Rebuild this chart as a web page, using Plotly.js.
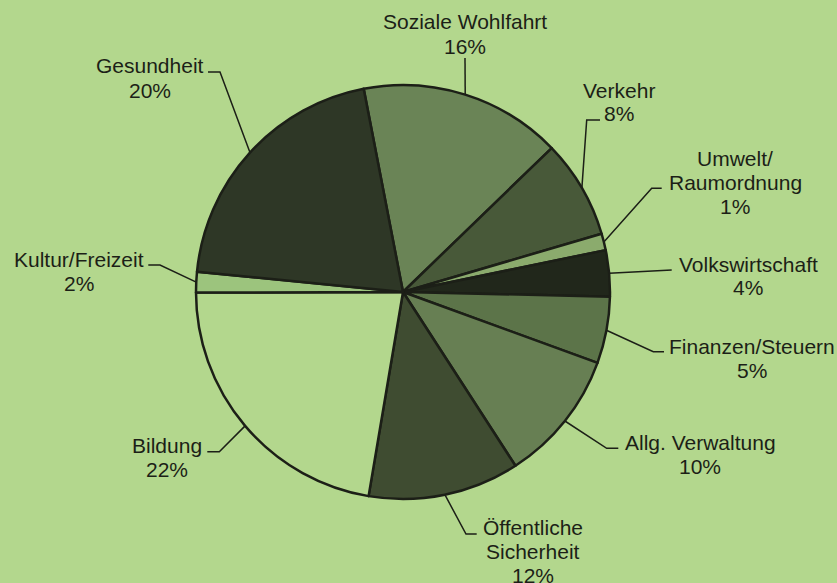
<!DOCTYPE html>
<html>
<head>
<meta charset="utf-8">
<script src="https://cdn.plot.ly/plotly-3.0.1.min.js"></script>
<style>
  html, body { margin: 0; padding: 0; background: #b3d78d; }
  #chart { width: 837px; height: 583px; }
</style>
</head>
<body>
<div id="chart"></div>
<script>
// Ausgaben nach Aufgabenbereichen (Anteile in %)
const categories = ['Soziale Wohlfahrt', 'Verkehr', 'Umwelt/Raumordnung', 'Volkswirtschaft',
  'Finanzen/Steuern', 'Allg. Verwaltung', 'Öffentliche Sicherheit', 'Bildung',
  'Kultur/Freizeit', 'Gesundheit'];
const shares = [15.8, 7.7, 1.3, 3.6, 5.2, 10.3, 11.8, 22.3, 1.6, 20.4];
const labelText = [['Soziale Wohlfahrt'], ['Verkehr'], ['Umwelt/', 'Raumordnung'], ['Volkswirtschaft'],
  ['Finanzen/Steuern'], ['Allg. Verwaltung'], ['Öffentliche', 'Sicherheit'], ['Bildung'],
  ['Kultur/Freizeit'], ['Gesundheit']];
const sliceColors = ['#6a8456', '#485939', '#8bab6d', '#21271b', '#5c7449',
  '#677f53', '#3f4c31', '#b3d78d', '#9cc47d', '#2e3726'];

(function () {
  'use strict';

  const W = 837, H = 583;
  const BG = '#b3d78d', INK = '#1c1f17';
  const cx = 403, cy = 292, R = 207;
  const rotation = -10.95;
  const lineH = 24;

  // label placement (px): text centre x, first line y, leader elbow, leader end
  const place = [
    { x: 464.5, y: 22,  elbow: null,           end: [465, 58] },
    { x: 619,   y: 90,  elbow: [586.7, 120],   end: [600, 120] },
    { x: 735,   y: 158.5, elbow: [651.7, 188.3], end: [661.7, 188.3] },
    { x: 748,   y: 264, elbow: null,           end: [671.7, 270] },
    { x: 752,   y: 346, elbow: [653.3, 351.7], end: [664, 351.7] },
    { x: 700,   y: 442, elbow: [606.7, 448.3], end: [618.3, 448.3] },
    { x: 532.5, y: 527.5, elbow: [466, 534],   end: [476.7, 534] },
    { x: 167,   y: 445, elbow: [219.3, 451.7], end: [207.3, 451.7] },
    { x: 78.5,  y: 259.5, elbow: [160, 265],   end: [148.3, 265] },
    { x: 150,   y: 66,  elbow: [220, 72],      end: [208, 72] }
  ];

  const px = x => x / W;
  const py = y => 1 - y / H;

  const total = shares.reduce((a, b) => a + b, 0);
  const annotations = [], shapes = [];
  let cum = 0;

  shares.forEach((v, i) => {
    const mid = (rotation + (cum + v / 2) / total * 360) * Math.PI / 180;
    cum += v;
    const ex = cx + R * Math.sin(mid), ey = cy - R * Math.cos(mid);
    const p = place[i];

    const pts = [[ex, ey]];
    if (p.elbow) pts.push(p.elbow);
    pts.push(p.end);
    const path = pts.map((q, k) => (k ? 'L' : 'M') + px(q[0]).toFixed(5) + ',' + py(q[1]).toFixed(5)).join(' ');
    shapes.push({ type: 'path', xref: 'paper', yref: 'paper', path: path,
      line: { color: INK, width: 1.5 }, layer: 'below' });

    const lines = labelText[i].concat([Math.round(v / total * 100) + '%']);
    lines.forEach((t, k) => {
      annotations.push({
        xref: 'paper', yref: 'paper', x: px(p.x), y: py(p.y + k * lineH),
        xanchor: 'center', yanchor: 'middle', showarrow: false, text: t,
        font: { family: 'Liberation Sans, Arial, sans-serif', size: 21, color: INK }
      });
    });
  });

  const trace = {
    type: 'pie',
    labels: categories,
    values: shares,
    sort: false,
    direction: 'clockwise',
    rotation: rotation,
    textinfo: 'none',
    hoverinfo: 'skip',
    marker: { colors: sliceColors, line: { color: INK, width: 2.5 } },
    domain: { x: [px(cx - R), px(cx + R)], y: [py(cy + R), py(cy - R)] },
    showlegend: false
  };

  Plotly.newPlot('chart', [trace], {
    width: W, height: H,
    margin: { l: 0, r: 0, t: 0, b: 0 },
    paper_bgcolor: BG, plot_bgcolor: BG,
    showlegend: false,
    annotations: annotations,
    shapes: shapes
  }, { displayModeBar: false, staticPlot: true });
})();
</script>
</body>
</html>
